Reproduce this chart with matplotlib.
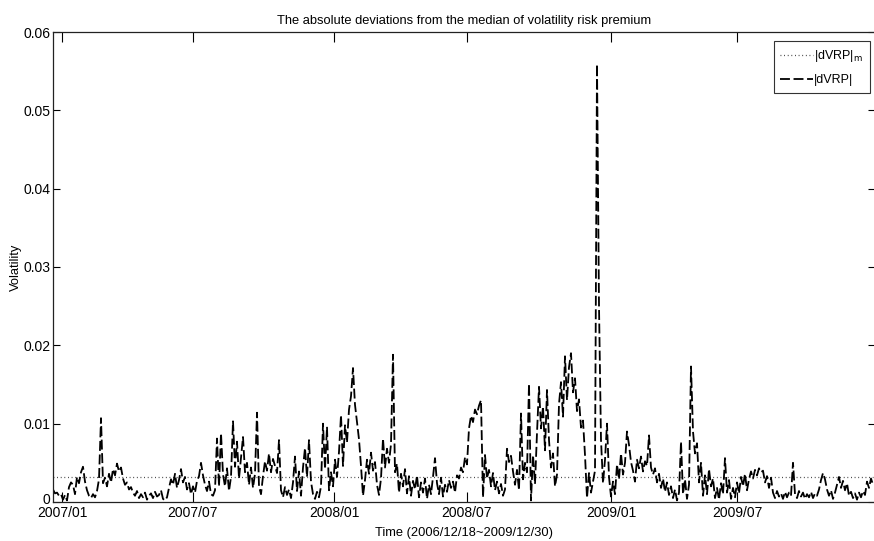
import numpy as np
import matplotlib
matplotlib.use('Agg')
import matplotlib.pyplot as plt
import matplotlib.transforms as mtransforms

plt.rcParams['font.family'] = ['Liberation Sans Narrow', 'Liberation Sans', 'DejaVu Sans']

# |dVRP| in units of 0.001 (roughly every second trading day)
dvrp_milli = [
    1.6, 1.1, 1.2, 0.8, 1.0, 0.3, 0.9, 0.2, 1.9, 2.5,
    2.2, 1.0, 3.2, 2.4, 3.8, 4.5, 2.6, 1.5, 0.8, 0.5,
    1.0, 0.6, 1.4, 2.9, 10.7, 2.4, 3.1, 2.0, 3.6, 2.5,
    4.2, 3.4, 4.9, 3.9, 4.4, 3.0, 2.2, 2.5, 1.6, 1.9,
    1.2, 0.8, 1.4, 0.5, 1.0, 0.6, 1.2, 0.3, 0.8, 1.1,
    0.5, 1.3, 0.7, 0.9, 1.5, 0.4, 0.2, 0.6, 1.8, 2.9,
    2.2, 3.6, 1.8, 2.8, 4.2, 2.5, 3.2, 1.6, 2.4, 1.0,
    2.0, 1.2, 2.7, 3.3, 5.0, 3.4, 2.2, 1.4, 2.6, 1.0,
    0.8, 1.5, 8.1, 2.0, 8.8, 3.5, 2.0, 4.3, 1.4, 3.2,
    10.3, 4.5, 7.7, 3.0, 5.6, 8.3, 3.8, 5.0, 2.2, 4.4,
    1.8, 3.6, 11.4, 2.0, 1.0, 3.3, 5.2, 4.0, 6.2, 3.8,
    5.5, 4.6, 3.7, 7.9, 1.5, 0.6, 1.9, 0.9, 1.6, 0.5,
    2.5, 5.8, 1.4, 3.9, 0.8, 4.4, 6.9, 3.2, 7.9, 2.6,
    1.0, 0.4, 1.3, 0.6, 2.0, 10.0, 4.2, 9.6, 1.5, 3.8,
    2.0, 5.4, 3.2, 6.4, 11.1, 4.6, 9.8, 7.6, 11.8, 13.5,
    17.1, 12.4, 10.2, 8.0, 4.6, 0.8, 2.8, 5.4, 3.6, 6.3,
    4.0, 5.1, 2.2, 0.9, 3.0, 8.1, 4.4, 6.8, 5.0, 7.4,
    18.8, 3.8, 4.9, 1.2, 3.6, 2.0, 4.2, 1.1, 3.3, 0.8,
    2.7, 1.6, 3.4, 0.6, 2.5, 1.2, 3.0, 0.4, 2.2, 1.0,
    3.2, 5.6, 2.4, 1.0, 3.1, 0.7, 2.2, 1.3, 2.8, 1.8,
    2.6, 1.2, 3.4, 3.0, 4.4, 3.8, 5.7, 4.8, 9.4, 11.0,
    10.2, 11.8, 11.2, 12.3, 13.0, 0.6, 6.0, 3.0, 4.1, 2.0,
    3.7, 1.5, 2.6, 1.1, 2.3, 0.8, 1.6, 6.8, 5.1, 5.9,
    3.9, 2.2, 4.1, 1.5, 11.3, 2.9, 5.0, 3.8, 15.1, 0.2,
    6.0, 2.3, 8.8, 14.7, 9.4, 12.2, 6.6, 14.3, 7.9, 4.4,
    6.2, 2.0, 3.5, 12.5, 15.3, 10.9, 18.6, 13.0, 17.2, 19.0,
    14.0, 15.8, 11.6, 13.1, 9.5, 10.4, 6.0, 0.5, 3.7, 1.2,
    2.6, 4.0, 55.9, 25.0, 7.9, 2.4, 5.4, 10.0, 3.2, 0.7,
    2.6, 1.0, 4.8, 2.9, 6.2, 3.5, 5.0, 9.0, 7.3, 5.1,
    4.0, 2.6, 5.4, 4.3, 5.8, 3.9, 5.2, 4.6, 8.5, 4.4,
    3.5, 4.3, 2.5, 3.6, 1.8, 3.0, 1.3, 2.5, 0.9, 2.0,
    0.5, 1.6, 0.2, 1.2, 7.7, 1.0, 2.9, 0.4, 2.2, 17.3,
    9.0, 6.2, 7.5, 2.5, 5.0, 0.8, 3.4, 1.0, 4.2, 2.0,
    3.0, 0.5, 1.8, 0.3, 2.4, 1.0, 5.6, 1.2, 2.8, 0.4,
    1.8, 0.6, 2.5, 1.1, 3.2, 2.0, 3.6, 1.5, 2.9, 3.9,
    3.0, 4.1, 3.4, 4.3, 3.8, 4.0, 2.5, 3.3, 1.8, 3.1,
    1.2, 0.5, 1.4, 0.7, 1.1, 0.4, 1.3, 0.6, 1.2, 0.8,
    5.0, 1.0, 0.5, 1.4, 0.7, 1.2, 0.4, 1.0, 0.6, 1.3,
    0.5, 1.1, 0.8, 1.6, 2.8, 3.7, 2.9, 1.6, 0.8, 1.5,
    0.4, 1.2, 2.2, 3.2, 1.8, 2.7, 1.5, 2.4, 0.8, 1.3,
    0.5, 1.1, 0.3, 1.2, 0.6, 1.4, 0.9, 2.6, 1.8, 3.0, 2.2,
]
median_dev = 0.00315  # |dVRP|_m

tick_labels = ['2007/01', '2007/07', '2008/01', '2008/07', '2009/01', '2009/07']
tick_pos = [4.5, 70, 140.5, 207, 279, 342]  # sample index of each month start

dvrp = np.array(dvrp_milli) / 1000
idx = np.arange(len(dvrp))

fig = plt.figure(figsize=(8.74, 5.41), dpi=100)
ax = fig.add_axes([53/874, 1 - 502/541, 822/874, 470/541])

ax.plot(idx, np.full(len(idx), median_dev), color='#333333', lw=0.9,
        dashes=(0.7, 2.2), label='|dVRP|$_{\\rm m}$')
ax.plot(idx, dvrp, color='black', lw=1.3, dashes=(5.5, 2.0), label='|dVRP|')

ax.set_xlim(0, len(idx))
ax.set_ylim(0, 0.06)
ax.set_xticks(tick_pos)
ax.set_xticklabels(tick_labels)
ax.set_yticks([0, 0.01, 0.02, 0.03, 0.04, 0.05, 0.06])
ax.set_yticklabels(['0', '0.01', '0.02', '0.03', '0.04', '0.05', '0.06'])
ax.tick_params(axis='both', direction='in', labelsize=10, width=0.8, colors='black')
ax.tick_params(axis='x', length=7.5, top=True, pad=3)
ax.tick_params(axis='y', length=5, right=True, pad=2)
for s in ax.spines.values():
    s.set_linewidth(0.9)
    s.set_color('#222222')

# lift the "0" label a little so it clears the first date label
zero_lbl = ax.get_yticklabels()[0]
zero_lbl.set_transform(zero_lbl.get_transform() + mtransforms.ScaledTranslation(0, 3/100, fig.dpi_scale_trans))

ax.set_title('The absolute deviations from the median of volatility risk premium', fontsize=9.3, pad=6)
ax.set_xlabel('Time (2006/12/18~2009/12/30)', fontsize=9.3, labelpad=5)
ax.set_ylabel('Volatility', fontsize=9.3, labelpad=1)

leg = ax.legend(loc='upper right', bbox_to_anchor=(870/874, 1 - 41/541), bbox_transform=fig.transFigure,
                fontsize=9, frameon=True, fancybox=False, handlelength=2.6, handletextpad=0.1,
                borderpad=0.55, labelspacing=0.8, borderaxespad=0)
leg.get_frame().set_edgecolor('black')
leg.get_frame().set_linewidth(0.8)

fig.savefig('out.png', dpi=100)
